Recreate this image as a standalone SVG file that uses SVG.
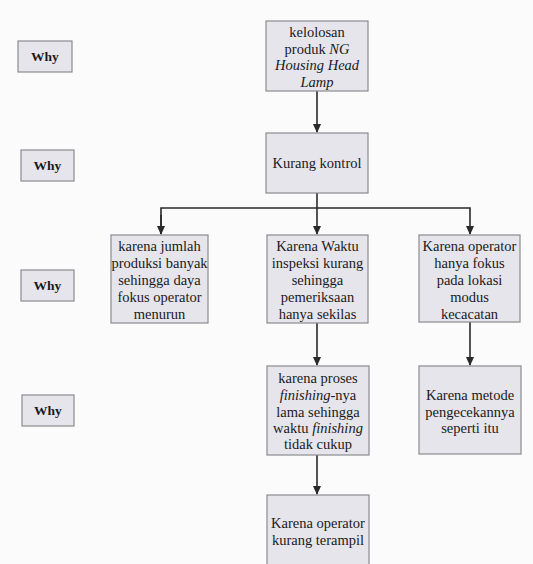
<svg xmlns="http://www.w3.org/2000/svg" width="533" height="564" viewBox="0 0 533 564">
<defs>
<style>
.box{fill:#e6e5ec;stroke:#8a8a90;stroke-width:1.2}
.t{font-family:"Liberation Serif","Times New Roman",serif;font-size:14.5px;fill:#1a1a20;text-anchor:middle}
.w{font-weight:bold;font-size:13.5px}
.c{stroke:#2a2a2a;stroke-width:1.6;fill:none}
</style>
<marker id="ah" viewBox="0 0 10 10" refX="9" refY="5" markerWidth="9" markerHeight="9" orient="auto" markerUnits="userSpaceOnUse">
<path d="M0,0.5 L10,5 L0,9.5 z" fill="#2a2a2a"/>
</marker>
</defs>
<rect width="533" height="564" fill="#fbfbfb"/>
<g id="connectors">
<line class="c" x1="317" y1="91" x2="317" y2="132" marker-end="url(#ah)"/>
<line class="c" x1="317" y1="193" x2="317" y2="234" marker-end="url(#ah)"/>
<polyline class="c" points="161,234 161,208 470,208 470,234" marker-end="url(#ah)"/>
<line class="c" x1="161" y1="215" x2="161" y2="234" marker-end="url(#ah)"/>
<line class="c" x1="317" y1="323" x2="317" y2="365" marker-end="url(#ah)"/>
<line class="c" x1="470" y1="322" x2="470" y2="365" marker-end="url(#ah)"/>
<line class="c" x1="317" y1="455" x2="317" y2="494" marker-end="url(#ah)"/>
</g>
<g id="why1"><rect class="box" x="18" y="41" width="54" height="31"/><text class="t w" x="45" y="61">Why</text></g>
<g id="why2"><rect class="box" x="21" y="150" width="53" height="31"/><text class="t w" x="47.5" y="170">Why</text></g>
<g id="why3"><rect class="box" x="21" y="270" width="53" height="31"/><text class="t w" x="47.5" y="290">Why</text></g>
<g id="why4"><rect class="box" x="22" y="395" width="52" height="31"/><text class="t w" x="48" y="415">Why</text></g>
<g id="n1"><rect class="box" x="266" y="21" width="102" height="70"/>
<text class="t" x="317" y="37">kelolosan</text>
<text class="t" x="317" y="53.5">produk <tspan font-style="italic">NG</tspan></text>
<text class="t" x="317" y="70" font-style="italic">Housing Head</text>
<text class="t" x="317" y="86.5" font-style="italic">Lamp</text></g>
<g id="n2"><rect class="box" x="266" y="133" width="102" height="60"/>
<text class="t" x="317" y="168">Kurang kontrol</text></g>
<g id="n3"><rect class="box" x="111" y="235" width="97" height="88"/>
<text class="t" x="159.5" y="251">karena jumlah</text>
<text class="t" x="159.5" y="268">produksi banyak</text>
<text class="t" x="159.5" y="285">sehingga daya</text>
<text class="t" x="159.5" y="302">fokus operator</text>
<text class="t" x="159.5" y="319">menurun</text></g>
<g id="n4"><rect class="box" x="267" y="235" width="101" height="88"/>
<text class="t" x="317.5" y="251">Karena Waktu</text>
<text class="t" x="317.5" y="268">inspeksi kurang</text>
<text class="t" x="317.5" y="285">sehingga</text>
<text class="t" x="317.5" y="302">pemeriksaan</text>
<text class="t" x="317.5" y="319">hanya sekilas</text></g>
<g id="n5"><rect class="box" x="419" y="235" width="101" height="87"/>
<text class="t" x="469.5" y="251">Karena operator</text>
<text class="t" x="469.5" y="268">hanya fokus</text>
<text class="t" x="469.5" y="285">pada lokasi</text>
<text class="t" x="469.5" y="302">modus</text>
<text class="t" x="469.5" y="319">kecacatan</text></g>
<g id="n6"><rect class="box" x="267" y="366" width="102" height="89"/>
<text class="t" x="318" y="383">karena proses</text>
<text class="t" x="318" y="400"><tspan font-style="italic">finishing</tspan>-nya</text>
<text class="t" x="318" y="417">lama sehingga</text>
<text class="t" x="318" y="433">waktu <tspan font-style="italic">finishing</tspan></text>
<text class="t" x="318" y="449">tidak cukup</text></g>
<g id="n7"><rect class="box" x="419" y="366" width="102" height="88"/>
<text class="t" x="470" y="400">Karena metode</text>
<text class="t" x="470" y="417">pengecekannya</text>
<text class="t" x="470" y="433">seperti itu</text></g>
<g id="n8"><rect class="box" x="267" y="495" width="102" height="80"/>
<text class="t" x="318" y="528">Karena operator</text>
<text class="t" x="318" y="545">kurang terampil</text></g>
</svg>
